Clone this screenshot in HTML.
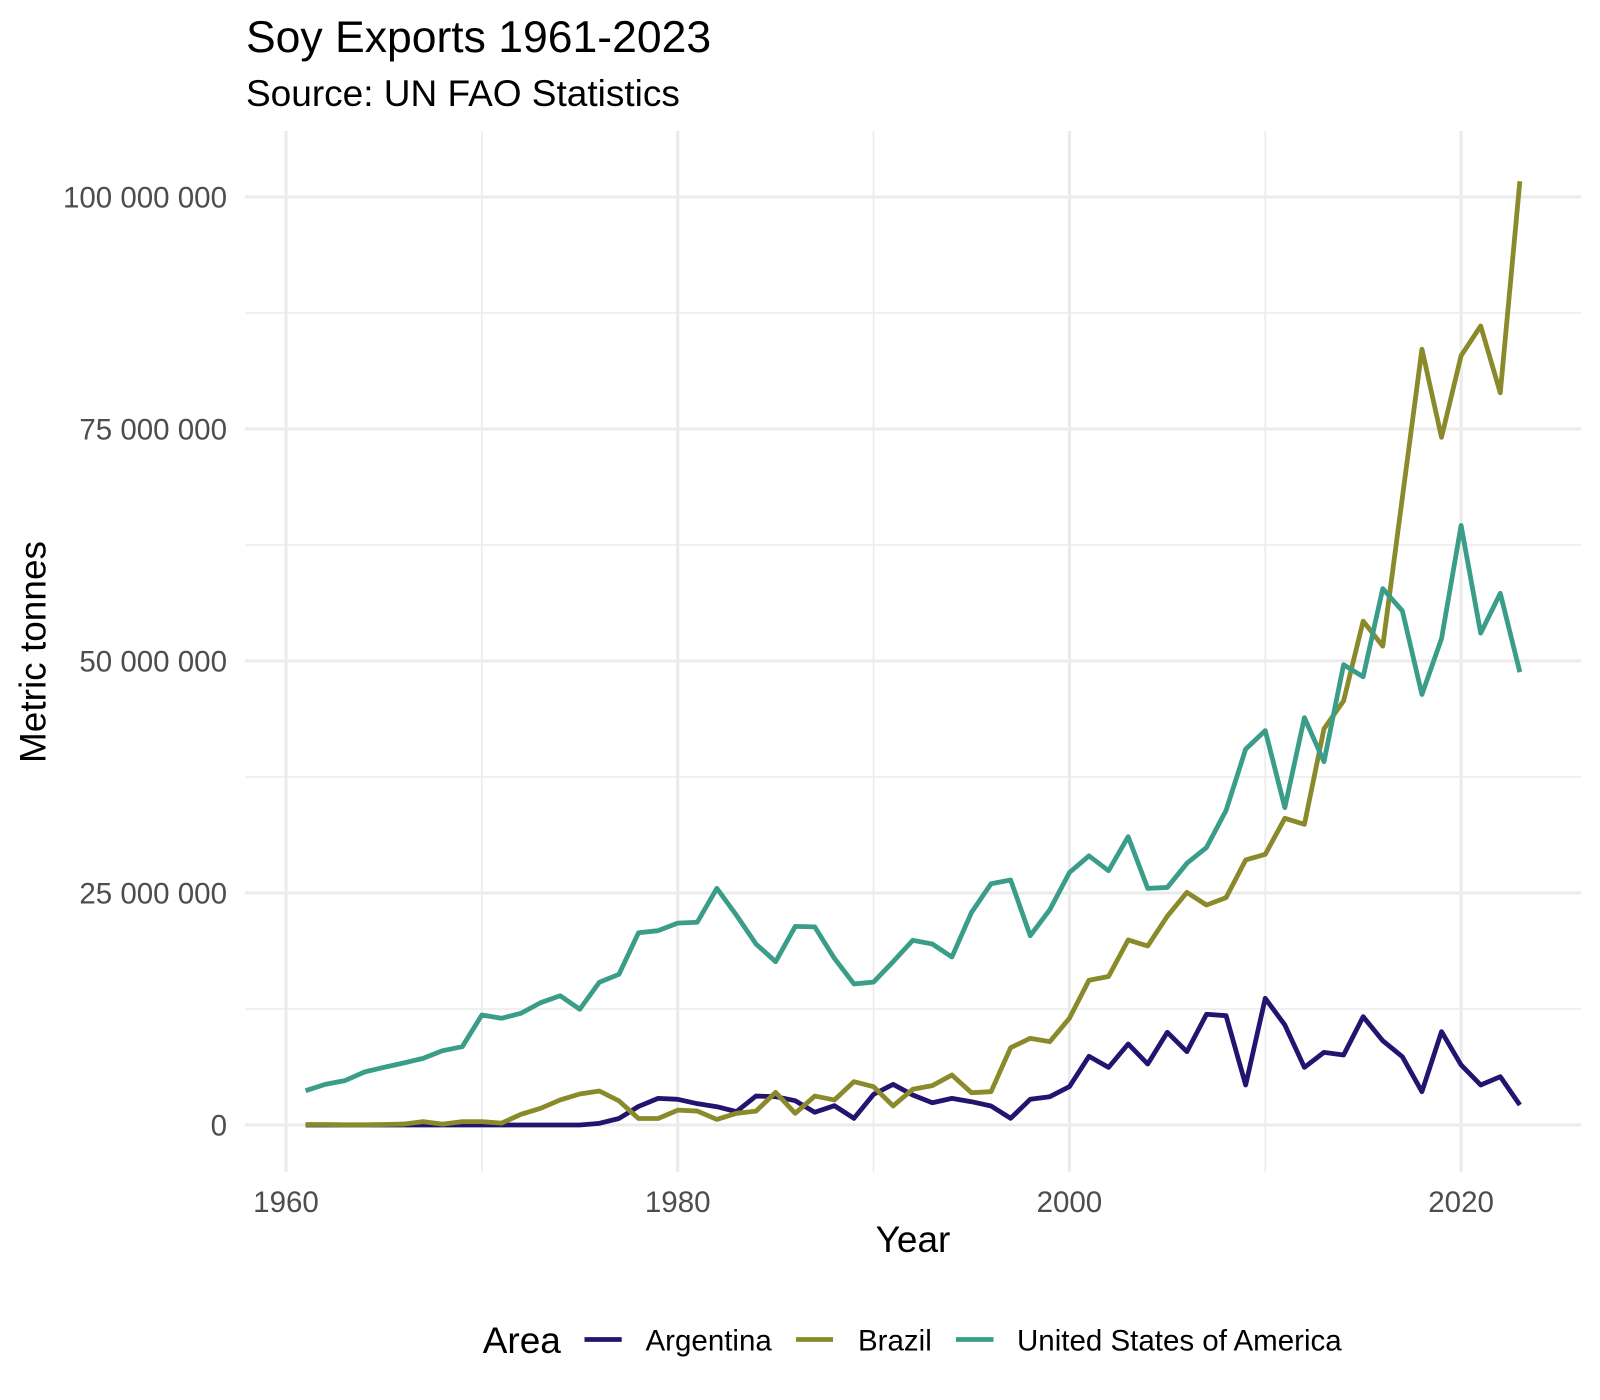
<!DOCTYPE html>
<html>
<head>
<meta charset="utf-8">
<style>
  html, body { margin:0; padding:0; background:#ffffff; }
  svg { display:block; }
  text { font-family: "Liberation Sans", Arial, sans-serif; }
</style>
</head>
<body>
<svg width="1600" height="1400" viewBox="0 0 1600 1400" xmlns="http://www.w3.org/2000/svg">
  <rect x="0" y="0" width="1600" height="1400" fill="#ffffff"/>

  <!-- minor grid -->
  <g stroke="#ebebeb" stroke-width="1.6" fill="none">
    <line x1="245" y1="1009" x2="1581" y2="1009"/>
    <line x1="245" y1="777" x2="1581" y2="777"/>
    <line x1="245" y1="545" x2="1581" y2="545"/>
    <line x1="245" y1="313" x2="1581" y2="313"/>
    <line x1="481.85" y1="131" x2="481.85" y2="1172"/>
    <line x1="873.55" y1="131" x2="873.55" y2="1172"/>
    <line x1="1265.25" y1="131" x2="1265.25" y2="1172"/>
  </g>
  <!-- major grid -->
  <g stroke="#ebebeb" stroke-width="3.1" fill="none">
    <line x1="245" y1="1125" x2="1581" y2="1125"/>
    <line x1="245" y1="893" x2="1581" y2="893"/>
    <line x1="245" y1="661" x2="1581" y2="661"/>
    <line x1="245" y1="429" x2="1581" y2="429"/>
    <line x1="245" y1="197" x2="1581" y2="197"/>
    <line x1="286" y1="131" x2="286" y2="1172"/>
    <line x1="677.7" y1="131" x2="677.7" y2="1172"/>
    <line x1="1069.4" y1="131" x2="1069.4" y2="1172"/>
    <line x1="1461.1" y1="131" x2="1461.1" y2="1172"/>
  </g>

  <!-- data: coordinates are (year-1960, million tonnes) -->
  <g transform="matrix(19.585 0 0 -9.28 286 1125)" fill="none" stroke-linejoin="round" stroke-linecap="butt">
    <polyline vector-effect="non-scaling-stroke" stroke="#25146f" stroke-width="4.8"
      points="1,0 2,0 3,0 4,0 5,0 6,0 7,0 8,0 9,0 10,0 11,0 12,0 13,0 14,0 15,0 16,0.18 17,0.7 18,2.0 19,2.87 20,2.77 21,2.3 22,1.97 23,1.44 24,3.12 25,3.05 26,2.62 27,1.37 28,2.08 29,0.72 30,3.3 31,4.38 32,3.23 33,2.4 34,2.87 35,2.51 36,2.05 37,0.72 38,2.77 39,3.05 40,4.13 41,7.4 42,6.21 43,8.73 44,6.57 45,9.99 46,7.9 47,11.93 48,11.78 49,4.31 50,13.65 51,10.78 52,6.21 53,7.83 54,7.54 55,11.67 56,9.08 57,7.36 58,3.59 59,10.06 60,6.47 61,4.31 62,5.21 63,2.15"/>
    <polyline vector-effect="non-scaling-stroke" stroke="#8a8a2b" stroke-width="4.8"
      points="1,0.05 2,0.05 3,0.02 4,0.02 5,0.05 6,0.1 7,0.36 8,0.1 9,0.36 10,0.36 11,0.2 12,1.15 13,1.8 14,2.7 15,3.34 16,3.66 17,2.6 18,0.7 19,0.7 20,1.6 21,1.5 22,0.6 23,1.26 24,1.5 25,3.52 26,1.26 27,3.12 28,2.7 29,4.67 30,4.13 31,2.05 32,3.85 33,4.24 34,5.39 35,3.48 36,3.59 37,8.33 38,9.34 39,8.98 40,11.5 41,15.6 42,16.0 43,19.94 44,19.29 45,22.5 46,25.07 47,23.7 48,24.5 49,28.56 50,29.17 51,33.05 52,32.4 53,42.7 54,45.7 55,54.3 56,51.6 57,67.6 58,83.6 59,74.1 60,82.9 61,86.1 62,78.9 63,101.7"/>
    <polyline vector-effect="non-scaling-stroke" stroke="#3a9d89" stroke-width="4.8"
      points="1,3.70 2,4.38 3,4.78 4,5.71 5,6.21 6,6.68 7,7.18 8,8.01 9,8.44 10,11.85 11,11.50 12,12.04 13,13.18 14,13.93 15,12.47 16,15.38 17,16.24 18,20.72 19,20.94 20,21.75 21,21.85 22,25.5 23,22.6 24,19.5 25,17.6 26,21.4 27,21.35 28,17.96 29,15.2 30,15.4 31,17.6 32,19.9 33,19.5 34,18.1 35,22.9 36,26.0 37,26.4 38,20.4 39,23.2 40,27.2 41,29.0 42,27.4 43,31.07 44,25.5 45,25.6 46,28.2 47,29.9 48,33.9 49,40.5 50,42.5 51,34.2 52,43.9 53,39.15 54,49.6 55,48.3 56,57.8 57,55.4 58,46.4 59,52.4 60,64.6 61,53.0 62,57.3 63,48.8"/>
  </g>

  <!-- y tick labels -->
  <g fill="#4d4d4d" font-size="29.5" text-anchor="end">
    <text x="227" y="1135.5">0</text>
    <text x="227" y="903.5">25 000 000</text>
    <text x="227" y="671.5">50 000 000</text>
    <text x="227" y="439.5">75 000 000</text>
    <text x="227" y="207.5">100 000 000</text>
  </g>
  <!-- x tick labels -->
  <g fill="#4d4d4d" font-size="29.5" text-anchor="middle">
    <text x="286" y="1212">1960</text>
    <text x="677.7" y="1212">1980</text>
    <text x="1069.4" y="1212">2000</text>
    <text x="1461.1" y="1212">2020</text>
  </g>

  <!-- axis titles -->
  <text x="913" y="1252" font-size="37" text-anchor="middle" fill="#000">Year</text>
  <text x="0" y="0" font-size="37" text-anchor="middle" fill="#000" transform="translate(45.5,652) rotate(-90)">Metric tonnes</text>

  <!-- titles -->
  <text x="246" y="52" font-size="44.5" fill="#000">Soy Exports 1961-2023</text>
  <text x="246" y="106" font-size="37" fill="#000">Source: UN FAO Statistics</text>

  <!-- legend -->
  <text x="482.7" y="1353" font-size="37" fill="#000">Area</text>
  <g stroke-width="4.8">
    <line x1="584.5" y1="1339.5" x2="621.7" y2="1339.5" stroke="#25146f"/>
    <line x1="796" y1="1339.5" x2="833" y2="1339.5" stroke="#8a8a2b"/>
    <line x1="956" y1="1339.5" x2="993.5" y2="1339.5" stroke="#3a9d89"/>
  </g>
  <g font-size="29.5" fill="#000">
    <text x="645.5" y="1350.5">Argentina</text>
    <text x="858" y="1350.5">Brazil</text>
    <text x="1017" y="1350.5">United States of America</text>
  </g>
</svg>
</body>
</html>
